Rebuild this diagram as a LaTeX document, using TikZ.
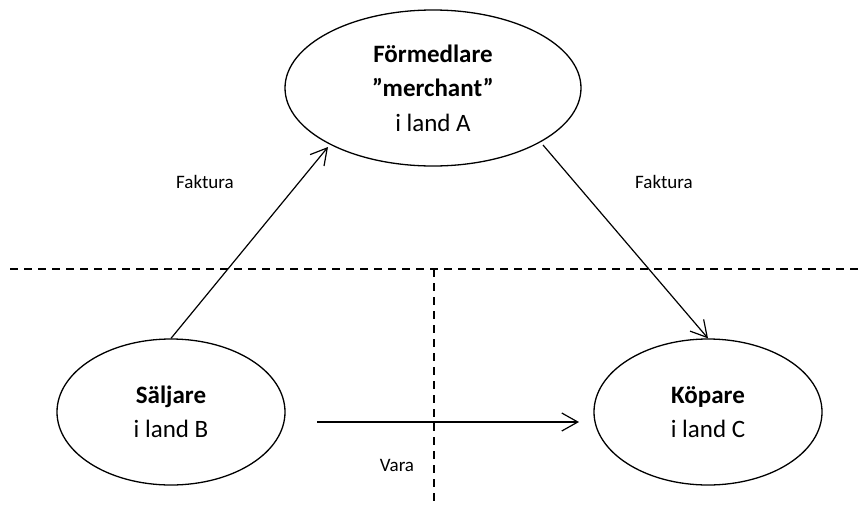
\documentclass[tikz,border=0pt]{standalone}
\usepackage{fontspec}
\setmainfont{Carlito}
\usetikzlibrary{shapes.geometric,arrows.meta}
\begin{document}
\begin{tikzpicture}[x=1pt,y=-1pt,
  party/.style={ellipse,draw,line width=1.3pt,inner sep=0pt,font=\fontsize{25}{34.5}\selectfont,align=center},
  lbl/.style={font=\fontsize{19}{23}\selectfont,inner sep=0pt},
  flow/.style={line width=1.2pt,-{Straight Barb[length=16pt,width=18pt]}},
  divider/.style={line width=1.3pt,dash pattern=on 8pt off 6pt}]
\useasboundingbox (0,0) rectangle (862,504);
% dividers
\coordinate (hl) at (10,269);
\coordinate (hr) at (862,269);
\coordinate (vt) at (434,269);
\coordinate (vb) at (434,504);
\draw[divider] (hl) -- (hr);
\draw[divider] (vt) -- (vb);
% parties
\node[party,minimum width=296pt,minimum height=156pt] (f) at (433,88)
  {\textbf{Förmedlare}\\\textbf{”merchant”}\\i land A};
\node[party,minimum width=228pt,minimum height=146pt] (s) at (171,412)
  {\textbf{Säljare}\\i land B};
\node[party,minimum width=228pt,minimum height=146pt] (k) at (708,412)
  {\textbf{Köpare}\\i land C};
% flows
\coordinate (a1) at (328,147);
\coordinate (a2) at (543,145);
\coordinate (h1) at (317,422);
\coordinate (h2) at (579,422);
\draw[flow] (s.north) -- (a1);
\draw[flow] (a2) -- (k.north);
\draw[flow] (h1) -- (h2);
% labels
\node[lbl] (fk1) at (205,182) {Faktura};
\node[lbl] (fk2) at (664,182) {Faktura};
\node[lbl] (vara) at (397,465) {Vara};
\end{tikzpicture}
\end{document}
